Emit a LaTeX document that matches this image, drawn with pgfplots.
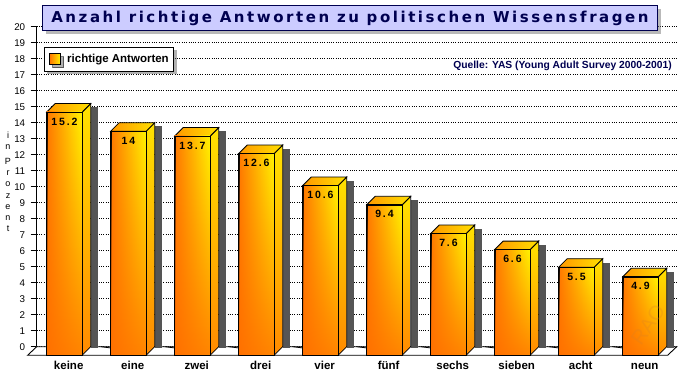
\documentclass[border=0pt]{standalone}
\usepackage{fontspec}
\setmainfont{Liberation Sans}
\newfontfamily\titlefont{DejaVu Sans}[LetterSpace=17]
\newfontfamily\valfont{Liberation Sans}[LetterSpace=18]
\usepackage{pgfplots}
\usepackage{pgfplotstable}
\pgfplotsset{compat=1.18}
\usetikzlibrary{shadows,fadings}
\definecolor{titlefill}{HTML}{CCCCFF}
\definecolor{navy}{HTML}{000050}
\definecolor{barL}{HTML}{FF7800}
\definecolor{barR}{HTML}{FFF500}
\definecolor{barB}{HTML}{FF7000}
\definecolor{sideT}{HTML}{FFE200}
\definecolor{sideB}{HTML}{FF8A00}
\definecolor{topL}{HTML}{FF9800}
\definecolor{topR}{HTML}{FFE000}
\definecolor{shadowgray}{HTML}{555555}
\pgfdeclareplotmark{emptymark}{}

\pgfplotstableread{
x v
0 15.2
1 14
2 13.7
3 12.6
4 10.6
5 9.4
6 7.6
7 6.6
8 5.5
9 4.9
}\datatable

\newcommand\drawbox[1]{%
  \pgfmathsetlengthmacro\h{16pt*#1}%
  \fill[shadowgray] (22pt,-\h) rectangle (28.6pt,-4pt);
  \draw[line width=0.8pt, top color=sideT, bottom color=sideB] (13.5pt,-8.5pt) -- (22pt,0pt) -- (22pt,-\h) -- ([yshift=-8.5pt]13.5pt,-\h) -- cycle;
  \draw[line width=0.8pt, left color=topL, right color=topR] (-22pt,-8.5pt) -- (-13.5pt,0pt) -- (22pt,0pt) -- (13.5pt,-8.5pt) -- cycle;
  \shade[left color=barL, right color=barR] (-22pt,-8.5pt) rectangle ([yshift=-8.5pt]13.5pt,-\h);
  \fill[barB, path fading=north, fill opacity=0.85] (-22pt,-8.5pt) rectangle ([yshift=-8.5pt]13.5pt,-\h);
  \draw[line width=0.8pt] (-22pt,-8.5pt) rectangle ([yshift=-8.5pt]13.5pt,-\h);
  \node[font=\valfont\bfseries\fontsize{10.5}{12}\selectfont, inner sep=0pt] at (-4.25pt,-18pt) {\pgfmathprintnumber{#1}};
}

\begin{document}
\begin{tikzpicture}
\useasboundingbox (0,0) rectangle (684pt,375pt);
\begin{axis}[
  at={(36.7pt,28.3pt)}, anchor=south west,
  x=64pt, y=16pt,
  xmin=-0.5, xmax=9.5, ymin=0, ymax=20,
  axis y line*=left, axis x line*=bottom,
  x axis line style={draw=none},
  y axis line style={line width=0.9pt},
  xtick={0,...,9},
  xticklabels={keine,eine,zwei,drei,vier,fünf,sechs,sieben,acht,neun},
  xtick style={draw=none},
  ytick={0,...,20},
  tick align=outside,
  major tick length=6pt,
  ytick style={black, line width=0.8pt},
  ymajorgrids,
  major grid style={black, line width=0.7pt, dash pattern=on 1pt off 1.3pt},
  clip=false,
  /pgf/number format/assume math mode=true,
  yticklabel style={font=\fontsize{9.8}{11}\selectfont, anchor=east, xshift=-2pt},
  xticklabel style={font=\bfseries\fontsize{11.5}{13}\selectfont, anchor=base, yshift=-16.5pt},
  legend style={at={(0.0114,0.9366)}, anchor=north west, draw=black, line width=0.8pt, fill=white,
    drop shadow={shadow xshift=3pt, shadow yshift=-3pt, fill=black!60},
    inner xsep=3pt, inner ysep=5pt, font=\bfseries\fontsize{11.5}{13}\selectfont},
  legend cell align=left,
]
% floor
\fill[white] (axis cs:-0.5,0) -- (axis cs:9.5,0) -- ([shift={(-9pt,-8.5pt)}]axis cs:9.5,0) -- ([shift={(-9pt,-8.5pt)}]axis cs:-0.5,0) -- cycle;
\draw[line width=0.9pt] (axis cs:-0.5,0) -- (axis cs:9.5,0) -- ([shift={(-9pt,-8.5pt)}]axis cs:9.5,0) -- ([shift={(-9pt,-8.5pt)}]axis cs:-0.5,0) -- cycle;
\pgfplotsinvokeforeach{0.5,1.5,2.5,3.5,4.5,5.5,6.5,7.5,8.5}{\draw[line width=0.8pt] (axis cs:#1,0) -- ++(0,-4pt);}
\addlegendimage{legend image code/.code={\path (0pt,0pt) (17pt,0pt); \draw[line width=0.8pt, left color=barL, right color=barR] (2pt,-5.5pt) rectangle (13pt,5.5pt);}}
\addlegendentry{richtige Antworten}
\addplot[forget plot, scatter, only marks, mark=emptymark,
  visualization depends on={\thisrow{v} \as \val},
  scatter/@pre marker code/.code={\drawbox{\val}\scope},
  scatter/@post marker code/.code={\endscope},
] table[x=x, y=v] {\datatable};
\end{axis}
\node[draw=navy, line width=0.9pt, fill=titlefill, minimum width=615pt, minimum height=25pt, anchor=north west, inner sep=0pt,
  drop shadow={shadow xshift=4pt, shadow yshift=-4pt, fill=black!55}] at (42pt,370pt)
  {\titlefont\bfseries\fontsize{15}{17}\selectfont\color{navy}Anzahl richtige Antworten zu politischen Wissensfragen};
\node[anchor=east, text=navy, font=\bfseries\fontsize{10.3}{11}\selectfont, inner sep=0pt] at (672pt,309pt) {Quelle: YAS (Young Adult Survey 2000-2001)};
\node[font=\fontsize{9}{11.3}\selectfont, align=center, inner sep=0pt] at (8pt,193pt) {i\\n\\[3pt]P\\r\\o\\z\\e\\n\\t};
\node[rotate=55, text=brown!60!orange, opacity=0.25, font=\fontsize{20}{20}\selectfont, inner sep=0pt] at (648pt,50pt) {RAO};
\end{tikzpicture}
\end{document}
